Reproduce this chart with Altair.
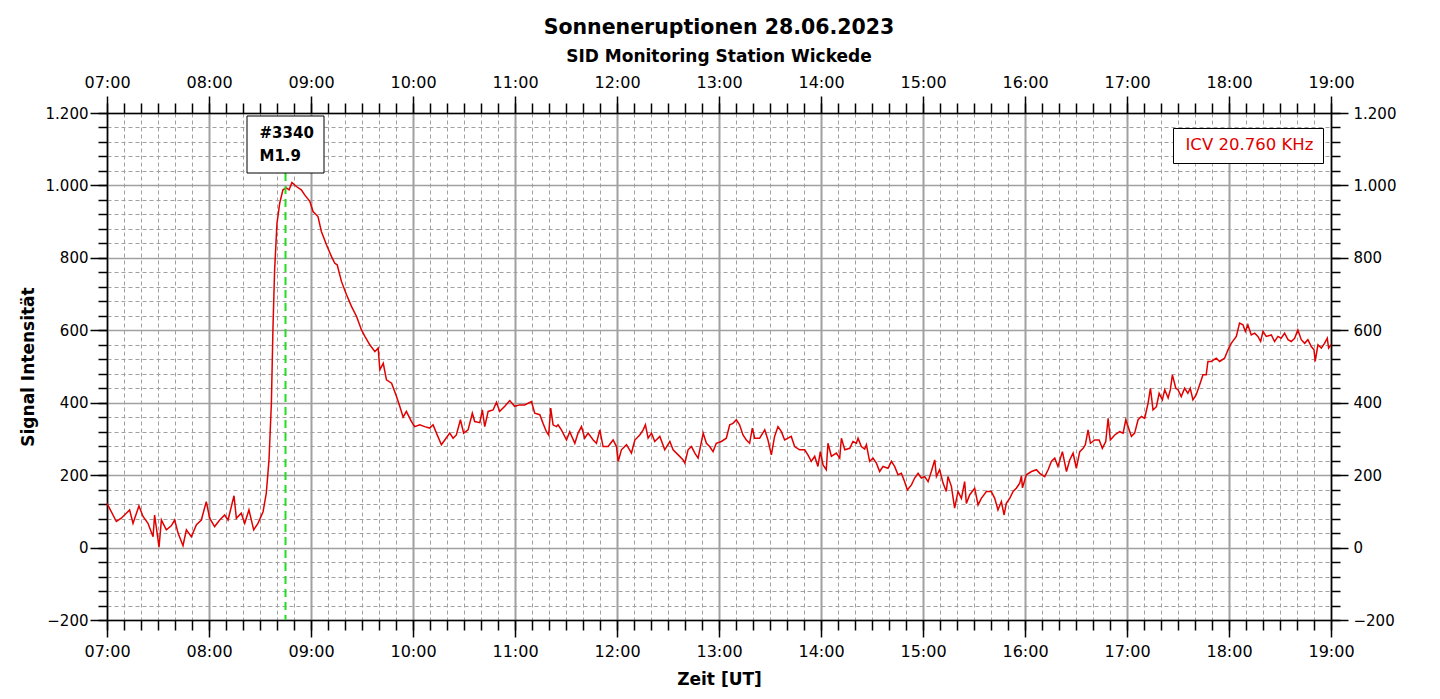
import json
import altair as alt
import pandas as pd

# ---------------- texts ----------------
TITLE = "Sonneneruptionen 28.06.2023"
SUBTITLE = "SID Monitoring Station Wickede"
X_TITLE = "Zeit [UT]"
Y_TITLE = "Signal Intensität"
SERIES = ["ICV 20.760 KHz"]
HOUR_LABELS = ["07:00", "08:00", "09:00", "10:00", "11:00", "12:00", "13:00",
               "14:00", "15:00", "16:00", "17:00", "18:00", "19:00"]
Y_LABELS = ["\u2212200", "0", "200", "400", "600", "800", "1.000", "1.200"]

# ---------------- axes ----------------
X_DOMAIN = [0, 720]          # minutes after 07:00 UT
Y_DOMAIN = [-200, 1200]
MAJOR_X = [0, 60, 120, 180, 240, 300, 360, 420, 480, 540, 600, 660, 720]
MINOR_X = list(range(0, 721, 10))
MAJOR_Y = [-200, 0, 200, 400, 600, 800, 1000, 1200]
MINOR_Y = list(range(-200, 1201, 40))

# ---------------- flare event ----------------
FLARE_TIME = [105]           # 08:45 UT
FLARE_TEXT = [["#3340", "M1.9"]]

# ---------------- signal (minutes after 07:00, intensity) ----------------
TIME_MIN = [
    0, 5.5, 8.4, 13.3, 15.3, 18.8, 21.2, 24.1, 27.1, 28, 30.6, 32, 34.9, 37.8,
    39.8, 41.8, 44.7, 46.7, 49.6, 52.6, 55.5, 58.4, 60.4, 63.3, 66.3, 69.2,
    71.2, 74.7, 76.1, 79, 81, 83.5, 86.3, 88.8, 91.8, 93.7, 95.3, 96.7, 97.6,
    98.6, 100, 101.6, 103.5, 105.5, 107.1, 108.8, 111.4, 114.3, 116.3, 119.3,
    121.2, 124.1, 126.1, 129.1, 132, 134, 135.4, 137.9, 140.9, 143.8, 146.8,
    149.7, 151.7, 154.6, 157.6, 159.5, 160.5, 162.5, 164.4, 167.4, 170.3,
    172.2, 174.2, 176.1, 179.1, 181, 184, 186.9, 189.8, 191.8, 193.8, 196.7,
    198.7, 201.6, 203.6, 205.5, 207.9, 209.8, 212.4, 214.9, 216.3, 219.3,
    220.8, 222.2, 224.2, 227.1, 229.1, 231, 234, 236.9, 239.8, 242.8, 245.7,
    249.7, 251.6, 254.6, 256.5, 258.5, 259.8, 261, 262.4, 264.4, 265.3, 267.3,
    270.3, 272.2, 275.2, 277.1, 279.1, 281, 283, 286, 287.9, 289.9, 291.8,
    294.8, 297.7, 299.7, 300.7, 302.6, 305.6, 308.5, 310.5, 313.4, 315.4,
    316.7, 318.3, 320.3, 322.2, 325.2, 328.1, 331.1, 333, 336, 338.9, 339.9,
    341.8, 343.8, 345.8, 347.7, 350.7, 352.6, 354.5, 356.5, 358.4, 361.4,
    364.3, 366.3, 368.2, 370.2, 372.1, 374.1, 376.1, 378, 379.6, 381, 383.9,
    386.9, 388.8, 390.8, 392.7, 394.7, 396.7, 398.6, 400.6, 402.5, 404.5,
    407.4, 410.4, 412.3, 414.3, 416.3, 418.2, 419.6, 421.2, 423.1, 424.1,
    426.1, 429, 431, 432, 434, 436.9, 438.8, 440.8, 441.8, 443.7, 445.7,
    446.7, 448.6, 450.6, 452.6, 454.5, 456.5, 459.4, 461.4, 463.3, 465.3,
    467.3, 469.2, 470.8, 473.2, 475.1, 477.1, 479, 481, 483, 484.9, 486.9,
    487.9, 489.8, 491.8, 493.7, 494.7, 496.7, 498.6, 500.6, 502.6, 504.5,
    505.5, 507.5, 510.4, 512.4, 514.3, 517.3, 520.2, 522.2, 524.1, 526.1,
    527.7, 529, 531, 533, 534.9, 536.9, 537.9, 538.5, 540.8, 543.8, 546.7,
    548.7, 551.6, 553.6, 555.5, 557.5, 559.4, 562, 564.4, 566.3, 568.3, 570.2,
    572.2, 574.2, 575.5, 577.1, 578.5, 581, 583.6, 585.5, 587.5, 588.9, 590.2,
    592.8, 595.7, 597.7, 599.3, 600.6, 602.6, 604.5, 606.5, 608.5, 610.4,
    612.4, 613.8, 615.3, 617.3, 618.9, 620.8, 622.2, 624.2, 625.5, 626.7,
    628.7, 630, 631.9, 633.9, 635.8, 637.2, 638.8, 640.7, 642.7, 644.7, 646.6,
    647.6, 649.6, 652.5, 654.5, 657.4, 659.4, 661.3, 664.3, 666.2, 668.2,
    669.6, 671.1, 673.1, 675.1, 677, 678.6, 680, 681.9, 684.9, 686.8, 688.8,
    690.7, 692.7, 694.7, 696.6, 698.6, 700.5, 702.5, 704.5, 706.4, 708.4, 710,
    710.7, 712.3, 714.3, 716.2, 717.8, 718.6, 720,
]
SIGNAL = [
    122, 72, 81, 104, 67, 115, 86, 67, 30, 90, 1, 76, 49, 60,
    76, 40, 5, 49, 30, 63, 76, 127, 81, 58, 76, 90,
    76, 143, 81, 95, 67, 104, 49, 67, 99, 150, 242, 399, 601,
    767, 896, 951, 988, 993, 988, 1008, 997, 988, 974, 956,
    928, 914, 873, 836, 804, 785, 781, 735, 698, 666, 638,
    601, 583, 560, 541, 551, 491, 509, 463, 454, 417,
    390, 360, 376, 348, 334, 339, 334, 330, 339, 316, 284,
    297, 316, 302, 311, 353, 316, 325, 371, 348, 345,
    380, 334, 376, 380, 401, 376, 390, 406, 390, 394, 394,
    403, 371, 367, 343, 320, 311, 385, 339, 334, 339, 325,
    297, 320, 288, 316, 334, 302, 316, 297, 288, 325, 279,
    279, 297, 279, 238, 270, 284, 261, 297, 311, 325,
    339, 302, 316, 293, 307, 270, 293, 270, 256, 242, 233,
    270, 279, 261, 247, 316, 288, 279, 265, 288, 293,
    302, 339, 343, 353, 339, 311, 297, 288, 330, 302, 302,
    325, 297, 256, 307, 334, 320, 297, 302, 307, 279,
    270, 270, 256, 238, 252, 224, 265, 228, 215, 288,
    252, 261, 247, 302, 270, 274, 293, 288, 302, 279, 272,
    284, 238, 247, 233, 210, 224, 219, 238, 224, 201,
    205, 182, 159, 173, 192, 205, 192, 196, 182, 210, 242,
    196, 215, 178, 155, 196, 169, 109, 155, 136, 182,
    122, 146, 164, 118, 136, 155, 155, 136, 104, 127,
    90, 122, 136, 155, 164, 178, 198, 165, 201, 210, 215,
    205, 196, 215, 238, 247, 224, 265, 210, 242, 261, 219,
    265, 274, 284, 325, 288, 297, 297, 274, 293, 357, 297,
    311, 320, 316, 353, 334, 307, 316, 353, 362, 357,
    399, 440, 380, 389, 426, 408, 436, 413, 436, 477,
    440, 436, 417, 440, 426, 440, 408, 422, 449, 477, 477,
    514, 514, 523, 514, 523, 546, 564, 583, 620, 615,
    597, 615, 587, 592, 583, 569, 597, 583, 587, 569, 583,
    578, 592, 574, 569, 578, 601, 574, 564, 574, 555, 546,
    514, 560, 551, 564, 578, 551, 560,
]

# ---------------- styles ----------------
FONT = "DejaVu Sans"
RED = "#e00000"
GRID = "#a0a0a0"
W, H = 1224, 507

signal_df = pd.DataFrame({"t": TIME_MIN, "v": SIGNAL, "series": SERIES[0]})
frame_df = pd.DataFrame({"t": X_DOMAIN, "v": Y_DOMAIN})
flare_df = pd.DataFrame({"t": FLARE_TIME, "label": FLARE_TEXT})

xscale = alt.Scale(domain=X_DOMAIN, nice=False, zero=False)
yscale = alt.Scale(domain=Y_DOMAIN, nice=False, zero=False)

x_expr = json.dumps(HOUR_LABELS) + "[round(datum.value / 60)]"
y_expr = json.dumps(Y_LABELS) + "[round((datum.value + 200) / 200)]"

common = dict(tickColor="black", tickWidth=1.5, domainColor="black",
              domainWidth=1.5, labelFont=FONT, labelColor="black",
              titleFont=FONT, titleColor="black", titleFontWeight="bold")


def axis_layer(xa, ya):
    return alt.Chart(frame_df).mark_point(opacity=0).encode(
        x=alt.X("t:Q", scale=xscale, axis=xa),
        y=alt.Y("v:Q", scale=yscale, axis=ya),
    )


minor_grid = axis_layer(
    alt.Axis(orient="bottom", values=MINOR_X, labels=False, tickSize=10,
             grid=True, gridColor=GRID, gridDash=[4, 3], gridWidth=1,
             domain=False, title=None, **common),
    alt.Axis(orient="left", values=MINOR_Y, labels=False, tickSize=9,
             grid=True, gridColor=GRID, gridDash=[4, 3], gridWidth=1,
             domain=False, title=None, **common),
)
major_grid = axis_layer(
    alt.Axis(orient="bottom", values=MAJOR_X, labelExpr=x_expr, tickSize=17,
             labelFontSize=16, labelPadding=6, grid=True, gridColor=GRID,
             gridWidth=2, domain=True, title=X_TITLE, titleFontSize=17,
             titlePadding=12, labelFlush=False, labelOverlap=False, **common),
    alt.Axis(orient="left", values=MAJOR_Y, labelExpr=y_expr, tickSize=17,
             labelFontSize=15, labelPadding=2, grid=True, gridColor=GRID,
             gridWidth=1.5, domain=True, title=Y_TITLE, titleFontSize=17,
             titlePadding=8, labelFlush=False, labelOverlap=False, **common),
)
minor_far = axis_layer(
    alt.Axis(orient="top", values=MINOR_X, labels=False, tickSize=10,
             grid=False, domain=False, title=None, **common),
    alt.Axis(orient="right", values=MINOR_Y, labels=False, tickSize=9,
             grid=False, domain=False, title=None, **common),
)
major_far = axis_layer(
    alt.Axis(orient="top", values=MAJOR_X, labelExpr=x_expr, tickSize=17,
             labelFontSize=16, labelPadding=6, grid=False, domain=True,
             title=None, labelFlush=False, labelOverlap=False, **common),
    alt.Axis(orient="right", values=MAJOR_Y, labelExpr=y_expr, tickSize=17,
             labelFontSize=15, labelPadding=5, grid=False, domain=True,
             title=None, labelFlush=False, labelOverlap=False, **common),
)

line = alt.Chart(signal_df).mark_line(strokeWidth=1.5).encode(
    x=alt.X("t:Q", scale=xscale, axis=None),
    y=alt.Y("v:Q", scale=yscale, axis=None),
    color=alt.Color(
        "series:N",
        scale=alt.Scale(domain=SERIES, range=[RED]),
        legend=alt.Legend(orient="none", legendX=1066, legendY=15, title=None,
                          padding=9, strokeColor="black", fillColor="white",
                          symbolSize=0, symbolStrokeWidth=0,
                          labelOffset={"expr": "-13"},
                          labelFont=FONT, labelFontSize=16.5, labelColor=RED,
                          labelLimit=400, cornerRadius=0),
    ),
)

flare_rule = alt.Chart(flare_df).mark_rule(
    color="#22dd22", strokeWidth=2, strokeDash=[8, 5]
).encode(
    x=alt.X("t:Q", scale=xscale, axis=None),
    y=alt.value(60),
    y2=alt.value(H),
)

flare_box = alt.Chart(flare_df).mark_rect(
    width=77, fill="white", stroke="black", strokeWidth=1
).encode(
    x=alt.X("t:Q", scale=xscale, axis=None),
    y=alt.value(3),
    y2=alt.value(60),
)

flare_text = alt.Chart(flare_df).mark_text(
    align="left", baseline="middle", dx=-26, font=FONT, fontSize=15,
    fontWeight="bold", color="black", lineHeight=23.4
).encode(
    x=alt.X("t:Q", scale=xscale, axis=None),
    y=alt.value(20),
    text="label",
)

chart = alt.layer(
    minor_grid, major_grid, minor_far, major_far,
    line, flare_rule, flare_box, flare_text,
).resolve_axis(
    x="independent", y="independent"
).properties(
    width=W,
    height=H,
    padding={"left": 99, "top": 105, "right": 100, "bottom": 70},
    autosize=alt.AutoSizeParams(type="none"),
    background="white",
    title=alt.TitleParams(
        text=TITLE, subtitle=SUBTITLE, anchor="middle", font=FONT,
        fontSize=20.5, fontWeight="bold", color="black",
        subtitleFont=FONT, subtitleFontSize=17, subtitleFontWeight="bold",
        subtitleColor="black", subtitlePadding=11, offset=9,
    ),
).configure_view(stroke=None)

chart.save("out.html", embed_options={"renderer": "svg", "actions": False})
